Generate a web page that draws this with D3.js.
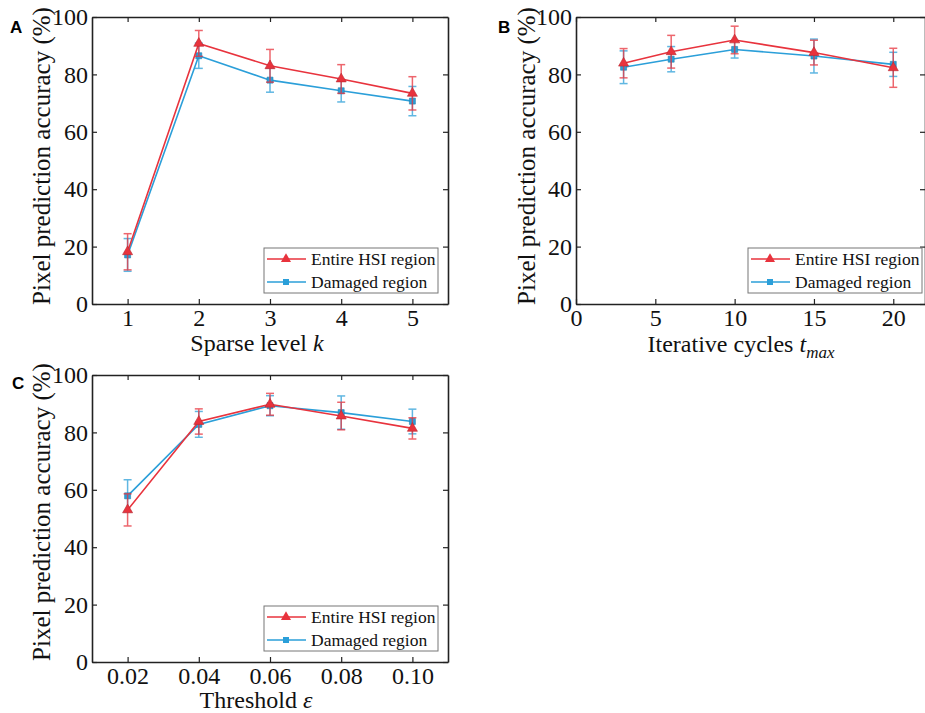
<!DOCTYPE html>
<html>
<head>
<meta charset="utf-8">
<script src="https://cdn.jsdelivr.net/npm/d3@7"></script>
<style>
  body { margin: 0; background: #fff; }
  svg { display: block; }
</style>
</head>
<body>
<svg width="925" height="713"></svg>
<script>
// panel A: sparse level k
const kLevels = [1, 2, 3, 4, 5];
const kEntire = [18.2, 90.8, 83.0, 78.4, 73.4];
const kEntireErr = [6.3, 4.5, 5.7, 5.0, 5.8];
const kDamaged = [17.1, 86.5, 78.0, 74.3, 70.7];
const kDamagedErr = [5.7, 4.4, 4.2, 3.9, 5.1];

// panel B: iterative cycles t_max
const tCycles = [3, 6, 10, 15, 20];
const tEntire = [83.9, 87.9, 92.0, 87.6, 82.3];
const tEntireErr = [5.1, 5.7, 4.8, 4.3, 6.8];
const tDamaged = [82.5, 85.3, 88.7, 86.4, 83.5];
const tDamagedErr = [5.7, 4.4, 3.0, 5.9, 4.2];

// panel C: threshold epsilon
const thresholds = [0.02, 0.04, 0.06, 0.08, 0.10];
const eEntire = [53.0, 83.8, 89.8, 85.7, 81.4];
const eEntireErr = [5.6, 4.4, 3.8, 4.8, 3.7];
const eDamaged = [57.9, 82.8, 89.3, 86.9, 83.8];
const eDamagedErr = [5.6, 4.5, 3.5, 5.8, 4.3];

const yTicks = [0, 20, 40, 60, 80, 100];
const seriesNames = ["Entire HSI region", "Damaged region"];

const RED = "#e8333d";
const BLUE = "#2b9fd9";
const SERIF = "'Liberation Serif', 'Times New Roman', serif";

const svg = d3.select("svg");

function drawPanel(cfg) {
    const g = svg.append("g");
    const x = d3.scaleLinear().domain(cfg.xDomain).range([cfg.left, cfg.right]);
    const y = d3.scaleLinear().domain([0, 100]).range([cfg.bottom, cfg.top]);

    g.append("g")
        .attr("transform", `translate(0,${cfg.bottom})`)
        .call(d3.axisBottom(x).tickValues(cfg.xTicks).tickFormat(cfg.xFormat)
            .tickSizeInner(-5).tickSizeOuter(0).tickPadding(5));
    g.append("g")
        .attr("transform", `translate(0,${cfg.top})`)
        .call(d3.axisTop(x).tickValues(cfg.xTicks).tickFormat("")
            .tickSizeInner(-5).tickSizeOuter(0));
    g.append("g")
        .attr("transform", `translate(${cfg.left},0)`)
        .call(d3.axisLeft(y).tickValues(yTicks)
            .tickSizeInner(-5).tickSizeOuter(0).tickPadding(4));
    g.append("g")
        .attr("transform", `translate(${cfg.right},0)`)
        .call(d3.axisRight(y).tickValues(yTicks).tickFormat("")
            .tickSizeInner(-5).tickSizeOuter(0));

    g.selectAll(".domain").attr("stroke", "#222").attr("stroke-width", 1.6);
    g.selectAll(".tick line").attr("stroke", "#222").attr("stroke-width", 1.2);
    g.selectAll(".tick text")
        .attr("font-family", SERIF).attr("font-size", 24).attr("fill", "#111");

    // y label
    g.append("text")
        .attr("transform", `translate(${cfg.yLabelX},${cfg.yLabelY}) rotate(-90)`)
        .attr("text-anchor", "middle")
        .attr("font-family", SERIF).attr("font-size", 25).attr("fill", "#111")
        .text("Pixel prediction accuracy (%)");

    // x label
    const xl = g.append("text")
        .attr("x", cfg.xLabelX).attr("y", cfg.xLabelY)
        .attr("text-anchor", "middle")
        .attr("font-family", SERIF).attr("font-size", 24).attr("fill", "#111");
    cfg.xLabel(xl);

    // panel letter
    g.append("text")
        .attr("x", cfg.letterX).attr("y", cfg.letterY)
        .attr("font-family", "'Liberation Sans', Arial, sans-serif")
        .attr("font-weight", "bold").attr("font-size", 17)
        .text(cfg.letter);

    const series = [
        {vals: cfg.entire, errs: cfg.entireErr, color: RED, shape: d3.symbolTriangle, size: 44},
        {vals: cfg.damaged, errs: cfg.damagedErr, color: BLUE, shape: d3.symbolSquare, size: 36}
    ];
    // draw damaged first so the red line sits on top
    [series[1], series[0]].forEach(s => {
        const pts = cfg.xs.map((xv, i) => ({x: xv, y: s.vals[i], e: s.errs[i]}));
        const eb = g.append("g").attr("stroke", s.color).attr("stroke-width", 1.5)
            .attr("opacity", 0.75);
        eb.selectAll("line.v").data(pts).join("line")
            .attr("x1", d => x(d.x)).attr("x2", d => x(d.x))
            .attr("y1", d => y(d.y - d.e)).attr("y2", d => y(d.y + d.e));
        eb.selectAll("line.t").data(pts).join("line")
            .attr("x1", d => x(d.x) - 4).attr("x2", d => x(d.x) + 4)
            .attr("y1", d => y(d.y + d.e)).attr("y2", d => y(d.y + d.e));
        eb.selectAll("line.b").data(pts).join("line")
            .attr("x1", d => x(d.x) - 4).attr("x2", d => x(d.x) + 4)
            .attr("y1", d => y(d.y - d.e)).attr("y2", d => y(d.y - d.e));

        const line = d3.line().x(d => x(d.x)).y(d => y(d.y));
        g.append("path")
            .attr("d", line(pts))
            .attr("fill", "none")
            .attr("stroke", s.color)
            .attr("stroke-width", 1.6);
        g.selectAll(null).data(pts).join("path")
            .attr("transform", d => `translate(${x(d.x)},${y(d.y)})`)
            .attr("d", d3.symbol().type(s.shape).size(s.size))
            .attr("fill", s.color)
            .attr("stroke", d3.color(s.color).darker(0.6))
            .attr("stroke-width", 0.6);
    });

    // legend
    const lg = g.append("g").attr("transform", `translate(${cfg.legX},${cfg.legY})`);
    lg.append("rect")
        .attr("width", 174).attr("height", 45)
        .attr("fill", "#fff").attr("stroke", "#777").attr("stroke-width", 1);
    series.forEach((s, i) => {
        const yy = 11 + i * 23;
        lg.append("line").attr("x1", 3).attr("x2", 42).attr("y1", yy).attr("y2", yy)
            .attr("stroke", s.color).attr("stroke-width", 1.6);
        lg.append("path")
            .attr("transform", `translate(22,${yy})`)
            .attr("d", d3.symbol().type(s.shape).size(s.size))
            .attr("fill", s.color);
        lg.append("text").attr("x", 47).attr("y", yy + 6)
            .attr("font-family", SERIF).attr("font-size", 17.5).attr("fill", "#111")
            .text(seriesNames[i]);
    });
}

drawPanel({
    letter: "A", letterX: 10, letterY: 33,
    left: 92, right: 448, top: 17, bottom: 304,
    xDomain: [0.5, 5.5], xTicks: kLevels, xFormat: d3.format("d"),
    xs: kLevels, entire: kEntire, entireErr: kEntireErr,
    damaged: kDamaged, damagedErr: kDamagedErr,
    yLabelX: 50, yLabelY: 156,
    xLabelX: 257, xLabelY: 351,
    xLabel: t => {
        t.append("tspan").text("Sparse level ");
        t.append("tspan").attr("font-style", "italic").text("k");
    },
    legX: 264, legY: 248
});

drawPanel({
    letter: "B", letterX: 498, letterY: 33,
    left: 576, right: 925, top: 17, bottom: 304,
    xDomain: [0, 22], xTicks: [0, 5, 10, 15, 20], xFormat: d3.format("d"),
    xs: tCycles, entire: tEntire, entireErr: tEntireErr,
    damaged: tDamaged, damagedErr: tDamagedErr,
    yLabelX: 535, yLabelY: 156,
    xLabelX: 741, xLabelY: 352,
    xLabel: t => {
        t.append("tspan").text("Iterative cycles ");
        t.append("tspan").attr("font-style", "italic").text("t");
        t.append("tspan").attr("font-style", "italic").attr("font-size", 17)
            .attr("dy", 6).text("max");
    },
    legX: 748, legY: 248
});

drawPanel({
    letter: "C", letterX: 12, letterY: 389,
    left: 92, right: 448, top: 375, bottom: 662,
    xDomain: [0.01, 0.11], xTicks: thresholds, xFormat: d3.format(".2f"),
    xs: thresholds, entire: eEntire, entireErr: eEntireErr,
    damaged: eDamaged, damagedErr: eDamagedErr,
    yLabelX: 50, yLabelY: 512,
    xLabelX: 256, xLabelY: 708,
    xLabel: t => {
        t.append("tspan").text("Threshold ");
        t.append("tspan").attr("font-style", "italic").text("ε");
    },
    legX: 264, legY: 606
});
</script>
</body>
</html>
